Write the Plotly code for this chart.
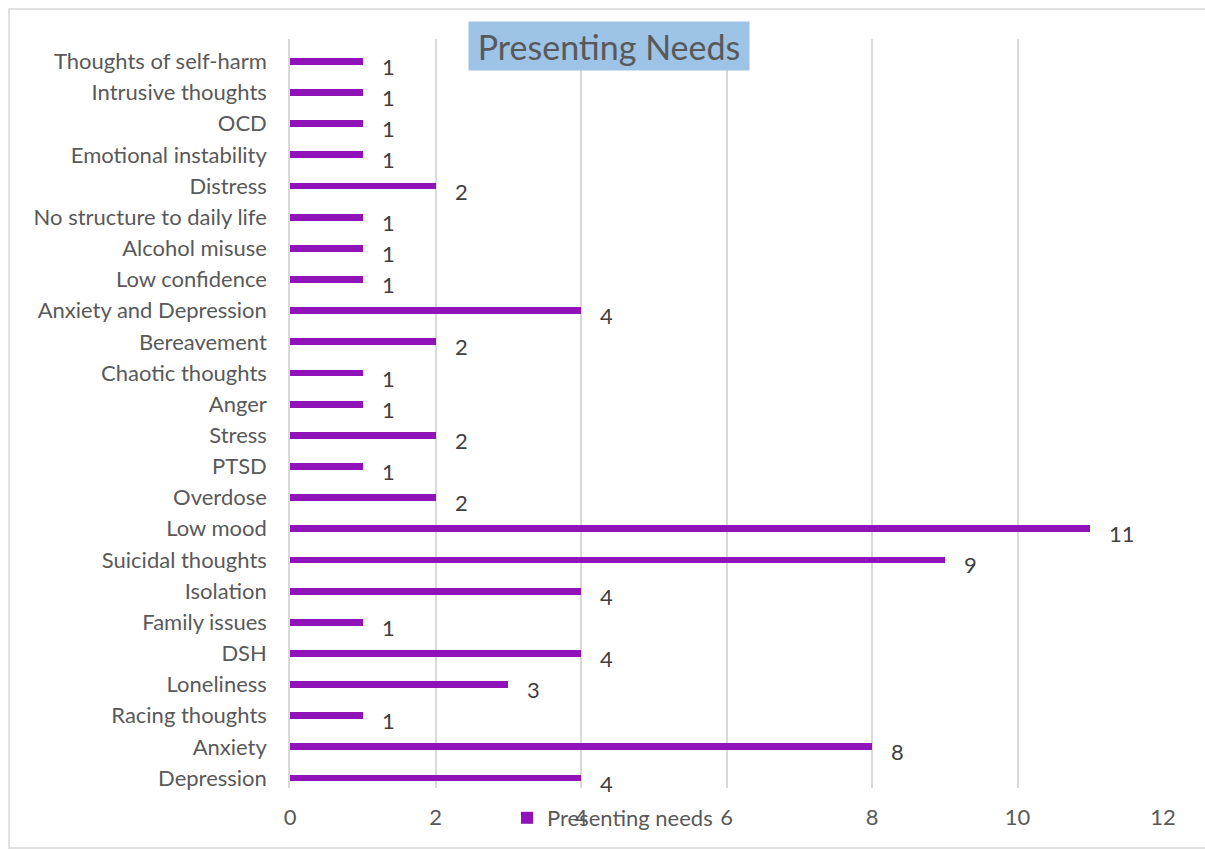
import plotly.graph_objects as go

# Presenting needs, listed bottom to top
categories = [
    "Depression", "Anxiety", "Racing thoughts", "Loneliness", "DSH",
    "Family issues", "Isolation", "Suicidal thoughts", "Low mood", "Overdose",
    "PTSD", "Stress", "Anger", "Chaotic thoughts", "Bereavement",
    "Anxiety and Depression", "Low confidence", "Alcohol misuse",
    "No structure to daily life", "Distress", "Emotional instability", "OCD",
    "Intrusive thoughts", "Thoughts of self-harm",
]
counts = [4, 8, 1, 3, 4, 1, 4, 9, 11, 2, 1, 2, 1, 1, 2, 4, 1, 1, 1, 2, 1, 1, 1, 1]
x_ticks = [0, 2, 4, 6, 8, 10, 12]

BAR = "#9013BA"
TXT = "#595959"
GRID = "#D9D9D9"
FONT = "Lato"
FS = 22

W, H = 1205, 850
ML, MR, MT, MB = 290, 42, 39, 61
pw, ph = W - ML - MR, H - MT - MB


def px_x(p):
    return (p - ML) / pw


def px_y(p):
    return (H - MB - p) / ph


fig = go.Figure()
fig.add_trace(go.Bar(
    y=categories, x=counts, orientation="h",
    marker=dict(color=BAR, line=dict(width=0)),
    width=0.22, name="Presenting needs",
    hoverinfo="x+y",
))

# value labels to the right of each bar
for c, v in zip(categories, counts):
    fig.add_annotation(
        x=v, y=c, text=str(v), showarrow=False,
        xanchor="left", yanchor="middle", xshift=17, yshift=-5,
        font=dict(family=FONT, size=FS, color="#404040"),
    )

# title box
fig.add_annotation(
    xref="paper", yref="paper", x=px_x(609), y=px_y(46),
    text="Presenting Needs", showarrow=False,
    xanchor="center", yanchor="middle",
    width=278, height=46, bgcolor="#9DC3E6",
    font=dict(family=FONT, size=34, color=TXT),
)

# outer chart border
fig.add_shape(
    type="rect", xref="paper", yref="paper",
    x0=px_x(9), x1=px_x(1215), y0=px_y(849), y1=px_y(9),
    line=dict(color="#D9D9D9", width=1.5), fillcolor="rgba(0,0,0,0)", layer="below",
)

fig.update_layout(
    width=W, height=H,
    margin=dict(l=ML, r=MR, t=MT, b=MB),
    paper_bgcolor="white", plot_bgcolor="white",
    font=dict(family=FONT, size=FS, color=TXT),
    showlegend=True,
    legend=dict(
        orientation="h", x=px_x(507), y=px_y(818),
        xanchor="left", yanchor="middle",
        bgcolor="rgba(0,0,0,0)",
        font=dict(family=FONT, size=FS, color=TXT),
        itemwidth=30,
    ),
    bargap=0,
)
fig.update_xaxes(
    range=[0, 12], tickvals=x_ticks, showgrid=True, gridcolor=GRID, gridwidth=1.5,
    zeroline=False, showline=False, ticks="", ticklabelstandoff=14,
    tickfont=dict(family=FONT, size=FS, color=TXT),
)
fig.update_yaxes(
    type="category", range=[-0.32, 23.72],
    showgrid=False, showline=True, linecolor=GRID, linewidth=1.5,
    ticks="", ticklabelstandoff=17,
    tickfont=dict(family=FONT, size=FS, color=TXT),
)

fig.write_html("out.html")
